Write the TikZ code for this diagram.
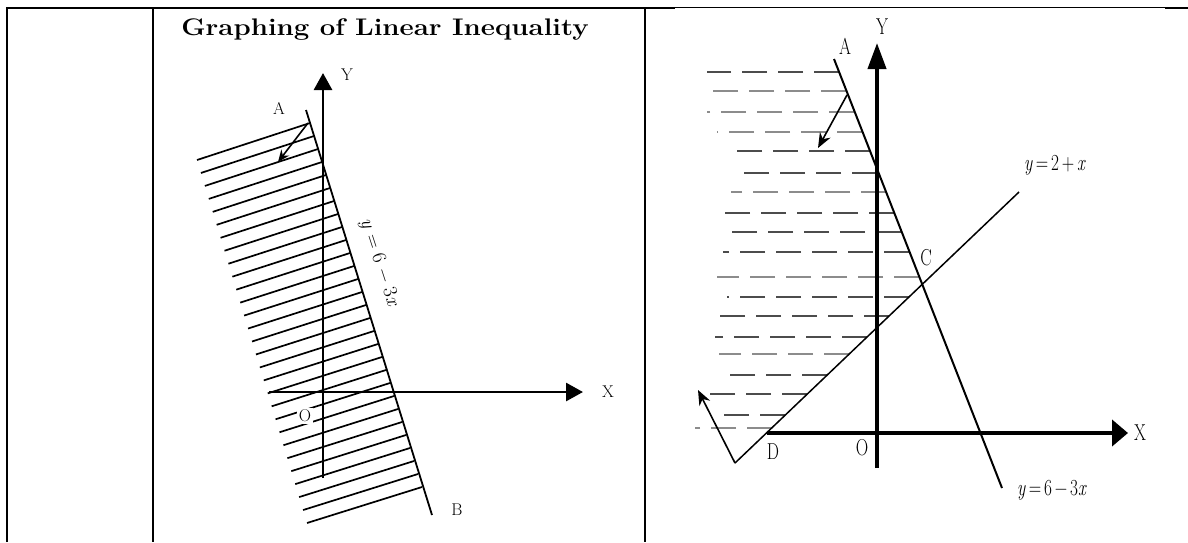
\documentclass[tikz,border=0pt]{standalone}
\usepackage{fontspec}
\setmainfont{Latin Modern Roman}
\usepackage{graphicx}
\usetikzlibrary{arrows.meta,calc}
\colorlet{dk}{black!70}
\colorlet{lt}{black!45}
\newcommand{\cond}[1]{\scalebox{0.75}[1]{#1}}
\tikzset{
  tbl/.style={line width=2pt},
  tblthin/.style={line width=1pt},
  hatch/.style={line width=1.7pt},
  lineAB/.style={line width=1.8pt},
  axL/.style={line width=2.8pt,-{Triangle[length=17pt,width=18pt]}},
  axR/.style={line width=4pt,-{Triangle[length=16pt,width=26pt]}},
  smallarrowL/.style={line width=1.6pt,-{Stealth[length=12pt,width=10pt]}},
  smallarrowR/.style={line width=1.6pt,-{Stealth[length=15pt,width=12pt]}},
  lab/.style={font=\fontsize{17}{20}\selectfont,inner sep=0pt},
  rlab/.style={font=\fontsize{23}{26}\selectfont,inner sep=0pt},
  dashrow/.style={line width=1.9pt,dash pattern=on 25pt off 11pt},
}
\begin{document}
\begin{tikzpicture}[x=1pt,y=-1pt]
\useasboundingbox (0,0) rectangle (1188,542);
% table frame
\draw[tbl] (7,542) -- (7,8) -- (675,8);
\draw[tblthin] (675,7.5) -- (1165,7.5);
\draw[tbl] (1165,8) -- (1188,8);
\draw[tbl] (153,8) -- (153,542);
\draw[tbl] (645,8) -- (645,542);
% title
\node[font=\fontsize{24}{28}\selectfont\bfseries,inner sep=0pt] (title) at (385,30) {\scalebox{1.15}[1]{Graphing of Linear Inequality}};

% ---------- left graph ----------
\coordinate (Lt) at (197,160); \coordinate (Lb) at (307,523);
\coordinate (Rt) at (310,123); \coordinate (Rb) at (422,487);
\foreach \i in {0,...,28}
  \draw[hatch] ($(Lt)!\i/28!(Lb)$) -- ($(Rt)!\i/28!(Rb)$);
\coordinate (LA) at (306,110); \coordinate (LB) at (432,515);
\draw[lineAB] (LA) -- (LB);
\coordinate (LYb) at (323,478); \coordinate (LYt) at (323,73);
\coordinate (LXl) at (269,392); \coordinate (LXr) at (583,392);
\draw[axL] (LYb) -- (LYt);
\draw[axL] (LXl) -- (LXr);
\coordinate (La1) at (308,123); \coordinate (La2) at (278,162);
\draw[smallarrowL] (La1) -- (La2);
\node[lab] (lA) at (279,108) {A};
\node[lab] (lY) at (347,75) {Y};
\node[lab] (lX) at (608,392) {X};
\node[lab,fill=white,inner sep=1.5pt] (lO) at (305,416) {O};
\node[lab] (lB) at (457,510) {B};
\node[font=\fontsize{20}{24}\selectfont,inner sep=0pt,rotate=-72] (leq) at (379,263) {\textit{y} = 6 − 3\textit{x}};

% ---------- right graph ----------
\foreach \y/\xl/\xr/\c in {72/707/839/dk, 91/707/846/lt, 112/707/854/lt, 132/717/862/lt,
  151/728/870/dk, 173/738/877/dk, 192/731/886/lt, 213/720/894/dk, 232/723/901/dk,
  252/723/909/dk, 277/717/919/lt, 297/727/909/dk, 316/717/889/dk, 337/715/867/dk,
  354/719/849/lt, 375/722/827/dk, 394/707/807/dk, 415/715/785/dk, 428/695/772/lt}
  \draw[dashrow,\c] (\xr,\y) -- (\xl,\y);
\coordinate (RA) at (834,59); \coordinate (RB) at (1002,488);
\coordinate (RL1) at (735,463); \coordinate (RL2) at (1019,192);
\draw[line width=2pt] (RA) -- (RB);
\draw[line width=1.5pt] (RL1) -- (RL2);
\coordinate (RYb) at (877,468); \coordinate (RYt) at (877,43);
\coordinate (RXl) at (767,433); \coordinate (RXr) at (1128,433);
\draw[line width=4pt,-{Triangle[length=26pt,width=18pt]}] (RYb) -- (RYt);
\draw[axR] (RXl) -- (RXr);
\coordinate (Ra1) at (847,95); \coordinate (Ra2) at (818,148);
\draw[smallarrowR] (Ra1) -- (Ra2);
\coordinate (Rb1) at (735,463); \coordinate (Rb2) at (698,390);
\draw[smallarrowR] (Rb1) -- (Rb2);
\node[rlab] (rA) at (845,46) {\cond{A}};
\node[rlab] (rY) at (882,27) {\cond{Y}};
\node[rlab] (rC) at (926,258) {\cond{C}};
\node[rlab] (rD) at (773,452) {\cond{D}};
\node[rlab] (rO) at (862,448) {\cond{O}};
\node[rlab] (rX) at (1140,433) {\cond{X}};
\node[rlab] (req1) at (1055,165) {\cond{\textit{y}\,=\,2\,+\,\textit{x}}};
\node[rlab] (req2) at (1052,490) {\cond{\textit{y}\,=\,6\,−\,3\textit{x}}};
\end{tikzpicture}
\end{document}
